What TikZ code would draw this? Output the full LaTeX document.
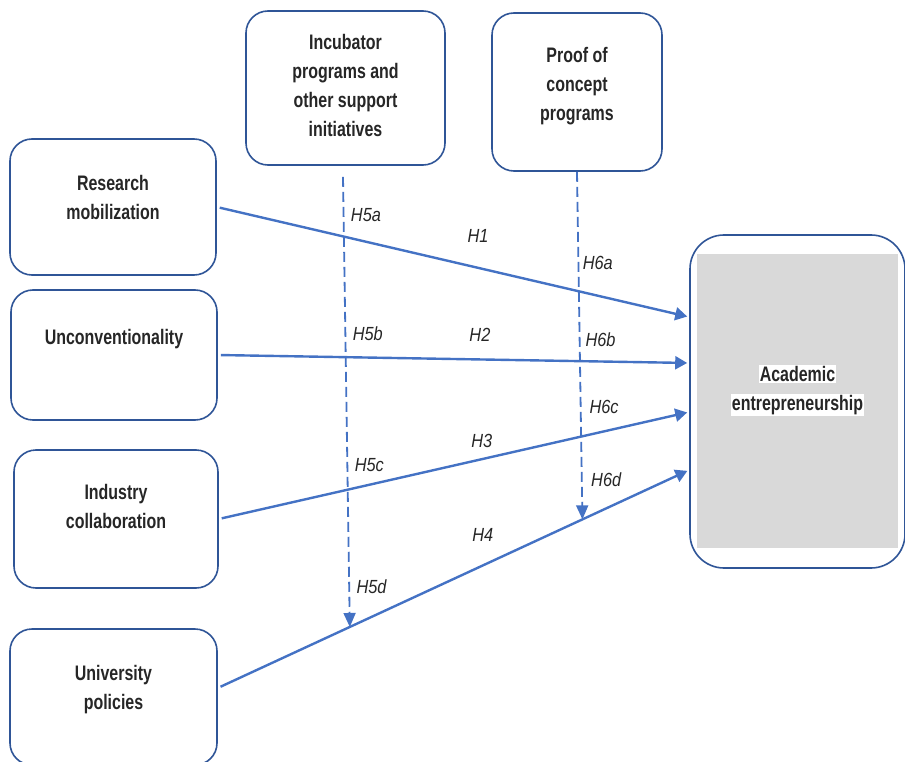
\documentclass[tikz,border=0pt]{standalone}
\usepackage{fontspec}
\setmainfont{Liberation Sans}[FakeStretch=0.76]
\newfontfamily\hypfont{Liberation Sans}[FakeStretch=0.86]
\usetikzlibrary{arrows.meta,calc}
\definecolor{lineblue}{HTML}{4472C4}
\definecolor{boxblue}{HTML}{2F5597}
\definecolor{boxtext}{HTML}{262626}
\definecolor{shadegray}{HTML}{D9D9D9}
\setlength{\fboxsep}{1pt}

\begin{document}
\begin{tikzpicture}[x=1pt, y=-1pt,
        every node/.style={align=center, text=boxtext},
        var/.style={draw=boxblue, line width=1.6pt, rounded corners=22pt},
        vtext/.style={font=\fontsize{21}{29}\selectfont\bfseries},
        hyp/.style={-{Triangle[length=12pt,width=13pt]}, line width=2.4pt, draw=lineblue, shorten <=3pt, shorten >=2pt},
        mod/.style={-{Triangle[length=14pt,width=12pt]}, line width=1.8pt, draw=lineblue, dash pattern=on 10pt off 5pt},
        lbl/.style={font=\hypfont\fontsize{19}{21}\selectfont\itshape, inner sep=1pt}
      ]
        \clip (0,0) rectangle (905,762);
        % independent variables
        \node[var, minimum width=206pt, minimum height=136pt, label={[vtext,yshift=10pt]center:{Research\\mobilization}}] (rm) at (113,207) {};
        \node[var, minimum width=206pt, minimum height=130pt, label={[vtext,yshift=16pt]center:{Unconventionality}}] (uc) at (114,355) {};
        \node[var, minimum width=204pt, minimum height=138pt, label={[vtext,yshift=13pt]center:{Industry\\collaboration}}] (ic) at (116,519) {};
        \node[var, minimum width=207pt, minimum height=136pt, label={[vtext,yshift=7pt]center:{University\\policies}}] (up) at (113.5,697) {};
        % moderators
        \node[var, minimum width=199pt, minimum height=154pt, label={[vtext,yshift=3pt]center:{Incubator\\programs and\\other support\\initiatives}}] (inc) at (345.5,88) {};
        \node[var, minimum width=170pt, minimum height=158pt, label={[vtext,yshift=6pt]center:{Proof of\\concept\\programs}}] (poc) at (577,92) {};
        % dependent variable
        \node[var, rounded corners=34pt, minimum width=215pt, minimum height=333pt] (ae) at (797.5,401.5) {};
        \fill[shadegray] ($(ae.north west)+(8,20)$) rectangle ($(ae.south east)+(-8,-21)$);
        \node[vtext] (aetext) at ([yshift=11pt]ae.center) {\colorbox{white}{Academic}\\\colorbox{white}{entrepreneurship}};
        % direct effects
        \draw[hyp] (rm.east) -- node[lbl, pos=0.553, yshift=32pt] (h1) {H1} ([yshift=84.5pt]ae.west);
        \draw[hyp] (uc.east) -- node[lbl, pos=0.556, yshift=25pt] (h2) {H2} ([yshift=38.5pt]ae.west);
        \draw[hyp] (ic.east) -- node[lbl, pos=0.559, yshift=18pt] (h3) {H3} ([yshift=-10.5pt]ae.west);
        \draw[hyp] ([yshift=9pt]up.east) -- node[lbl, pos=0.562, yshift=30.5pt] (h4) {H4}
              coordinate[pos=0.280] (h5end) coordinate[pos=0.7735] (h6end) ([yshift=-68.5pt]ae.west);
        % moderating effects
        \draw[mod] ([xshift=-2.5pt,yshift=-11pt]inc.south) -- node[lbl, pos=0.084, right, xshift=5.5pt] (h5a) {H5a}
              node[lbl, pos=0.348, right, xshift=5.5pt] (h5b) {H5b}
              node[lbl, pos=0.641, right, xshift=5.5pt] (h5c) {H5c}
              node[lbl, pos=0.911, right, xshift=5.5pt] (h5d) {H5d} (h5end);
        \draw[mod] (poc.south) -- node[lbl, pos=0.261, right, xshift=2.5pt] (h6a) {H6a}
              node[lbl, pos=0.484, right, xshift=4pt] (h6b) {H6b}
              node[lbl, pos=0.676, right, xshift=7pt] (h6c) {H6c}
              node[lbl, pos=0.885, right, xshift=7.5pt] (h6d) {H6d} (h6end);
      \end{tikzpicture}
\end{document}
